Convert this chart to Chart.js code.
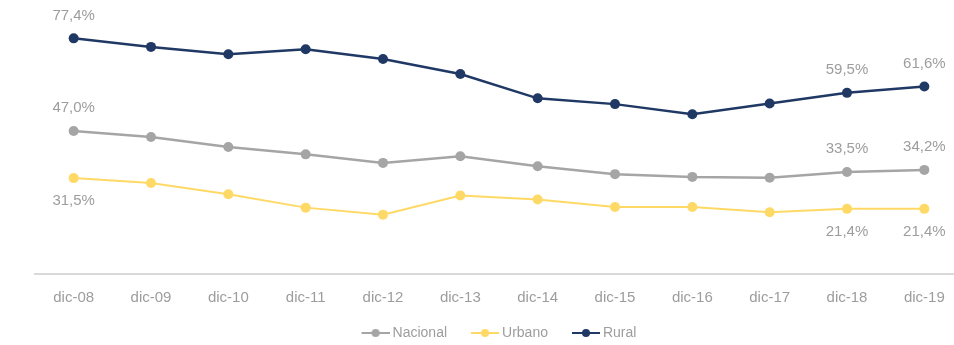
<!DOCTYPE html>
<html>
<head>
<meta charset="utf-8">
<script src="https://cdn.jsdelivr.net/npm/chart.js@4"></script>
<style>
  html, body { margin: 0; padding: 0; background: #fff; overflow: hidden; }
  #wrap { position: relative; width: 963px; height: 350px; }
</style>
</head>
<body>
<div id="wrap"><canvas id="pobreza"></canvas></div>
<script>
const labels = ['dic-08', 'dic-09', 'dic-10', 'dic-11', 'dic-12', 'dic-13', 'dic-14', 'dic-15', 'dic-16', 'dic-17', 'dic-18', 'dic-19'];

const nacional = [47.0, 45.0, 41.7, 39.3, 36.5, 38.7, 35.4, 32.8, 31.9, 31.6, 33.5, 34.2];
const urbano = [31.5, 29.9, 26.2, 21.8, 19.5, 25.8, 24.5, 22.0, 22.0, 20.3, 21.4, 21.4];
const rural = [77.4, 74.6, 72.2, 73.8, 70.6, 65.7, 57.7, 55.8, 52.5, 56.0, 59.5, 61.6];

// which points get a value label
const labelIdx = [0, 10, 11];

const FONT = "'Liberation Sans', Arial, sans-serif";
const TEXT = '#9d9d9d';

// line + dot legend marker; wider than the legend box so the text sits close to it
function marker(color) {
  const c = document.createElement('canvas');
  c.width = 32;
  c.height = 10;
  const ctx = c.getContext('2d');
  ctx.strokeStyle = color;
  ctx.lineWidth = 2;
  ctx.beginPath();
  ctx.moveTo(4, 5);
  ctx.lineTo(32, 5);
  ctx.stroke();
  ctx.fillStyle = color;
  ctx.beginPath();
  ctx.arc(18, 5, 4, 0, Math.PI * 2);
  ctx.fill();
  return c;
}

const valueLabels = {
  id: 'valueLabels',
  afterDatasetsDraw(chart) {
    const ctx = chart.ctx;
    ctx.save();
    ctx.font = '15px ' + FONT;
    ctx.fillStyle = TEXT;
    ctx.textAlign = 'center';
    ctx.textBaseline = 'middle';
    chart.data.datasets.forEach((ds, i) => {
      const meta = chart.getDatasetMeta(i);
      labelIdx.forEach((j) => {
        const pt = meta.data[j];
        const txt = ds.data[j].toFixed(1).replace('.', ',') + '%';
        const dy = ds.labelBelow ? 23 : -23;
        ctx.fillText(txt, pt.x, pt.y + dy);
      });
    });
    ctx.restore();
  }
};

function series(label, data, color, width, below) {
  return {
    label: label,
    data: data,
    borderColor: color,
    backgroundColor: color,
    borderWidth: width,
    pointRadius: 5,
    pointHoverRadius: 5,
    pointBorderWidth: 0,
    tension: 0,
    clip: false,
    labelBelow: below,
    legendMarker: marker(color)
  };
}

const config = {
  type: 'line',
  data: {
    labels: labels,
    datasets: [
      series('Nacional', nacional, '#a5a5a5', 2.5, false),
      series('Urbano', urbano, '#ffd966', 2, true),
      series('Rural', rural, '#1f3864', 2.5, false)
    ]
  },
  options: {
    responsive: true,
    maintainAspectRatio: false,
    animation: false,
    layout: { autoPadding: false, padding: { left: 35, right: 0, top: 0, bottom: 0 } },
    scales: {
      x: {
        offset: true,
        grid: { display: false, drawTicks: false },
        border: { color: '#d9d9d9', width: 2 },
        ticks: { color: TEXT, font: { family: FONT, size: 15 }, padding: 15, maxRotation: 0 },
        afterFit(scale) { scale.height -= 20; }
      },
      y: {
        display: false,
        min: 0,
        max: 90
      }
    },
    plugins: {
      tooltip: { enabled: false },
      legend: {
        position: 'bottom',
        labels: {
          color: TEXT,
          font: { family: FONT, size: 14 },
          usePointStyle: true,
          pointStyleWidth: 24,
          padding: 24,
          generateLabels(chart) {
            const items = Chart.defaults.plugins.legend.labels.generateLabels(chart);
            items.forEach((it) => {
              it.pointStyle = chart.data.datasets[it.datasetIndex].legendMarker;
            });
            return items;
          }
        }
      }
    }
  },
  plugins: [valueLabels]
};

const chart = new Chart(document.getElementById('pobreza'), config);
</script>
</body>
</html>
